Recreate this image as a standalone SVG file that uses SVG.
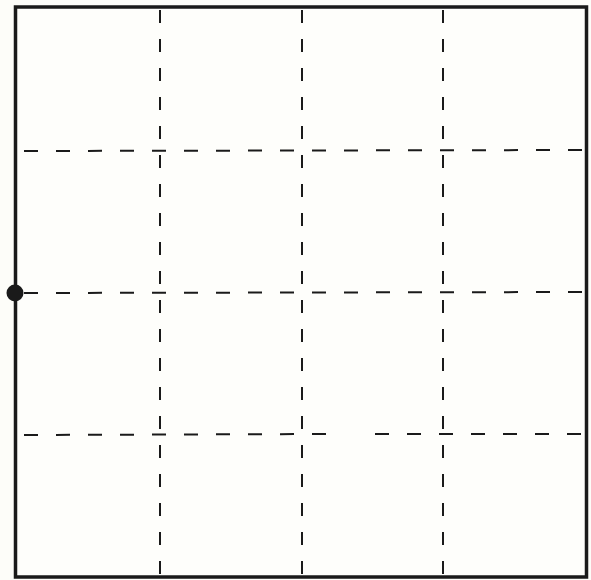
<svg xmlns="http://www.w3.org/2000/svg" width="591" height="580" viewBox="0 0 591 580">
<style>
.v{stroke:#1a1a1a;stroke-width:2;stroke-dasharray:13 16;fill:none}
.h{stroke:#1a1a1a;stroke-width:2;stroke-dasharray:14 18;fill:none}
</style>
<rect x="0" y="0" width="591" height="580" fill="#fdfdf9"/>
<g id="frame">
<rect x="15.5" y="7" width="571" height="570" fill="#fefefb" stroke="#1a1a1a" stroke-width="3.5"/>
</g>
<g id="grid">
<line class="v" x1="160" y1="10" x2="160" y2="576"/>
<line class="v" x1="302" y1="10" x2="302" y2="576"/>
<line class="v" x1="443" y1="10" x2="443" y2="576"/>
<line class="h" x1="24" y1="151" x2="584" y2="150"/>
<line class="h" x1="24" y1="293" x2="584" y2="292"/>
<line class="h" x1="24" y1="435" x2="330" y2="434"/>
<line class="h" x1="375" y1="434" x2="584" y2="434"/>
</g>
<g id="dot">
<circle cx="15" cy="293" r="8.5" fill="#1a1a1a"/>
</g>
</svg>
